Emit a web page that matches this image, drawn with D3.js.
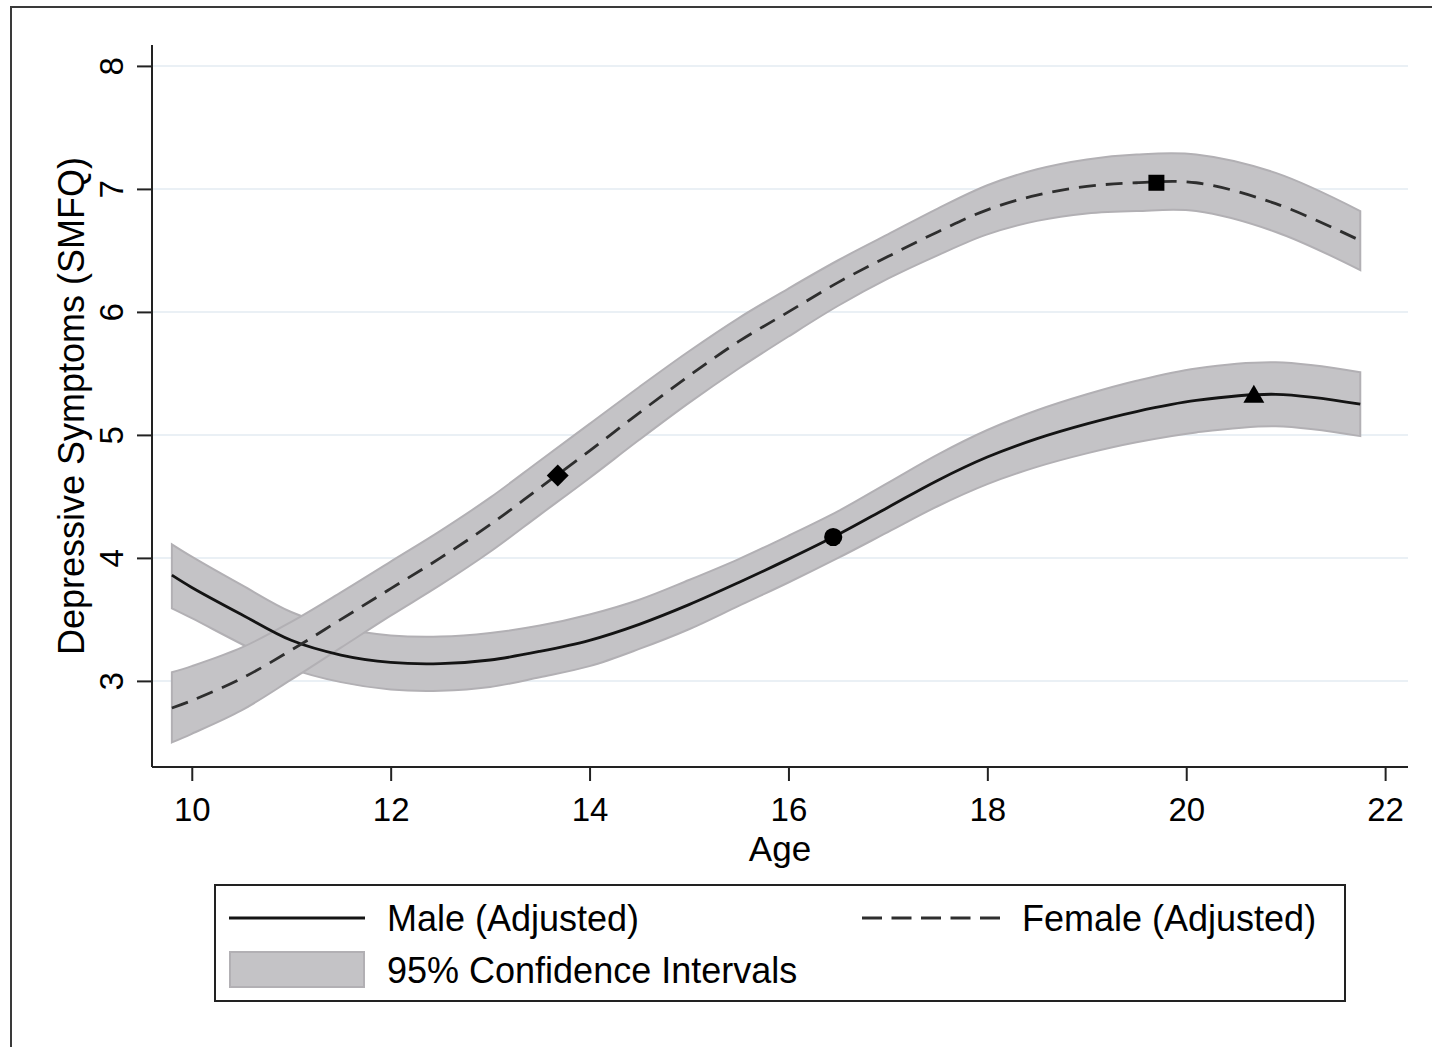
<!DOCTYPE html>
<html>
<head>
<meta charset="utf-8">
<script src="https://cdn.jsdelivr.net/npm/d3@7"></script>
<style>
  html, body { margin: 0; padding: 0; background: #fff; }
  svg { display: block; font-family: "Liberation Sans", Arial, sans-serif; }
</style>
</head>
<body>
<svg id="chart" width="1432" height="1047"></svg>
<script>
// Predicted depressive symptoms (SMFQ) by age, adjusted models
const ages = [9.8, 10.0, 10.5, 11.0, 11.5, 12.0, 12.5, 13.0, 13.5, 14.0, 14.5, 15.0,
              15.5, 16.0, 16.5, 17.0, 17.5, 18.0, 18.5, 19.0, 19.5, 20.1, 20.9, 21.75];

const maleFit   = [3.86, 3.76, 3.54, 3.33, 3.21, 3.15, 3.14, 3.17, 3.24, 3.33, 3.46, 3.62,
                   3.80, 3.99, 4.19, 4.41, 4.63, 4.82, 4.97, 5.09, 5.19, 5.28, 5.33, 5.25];
const maleUpper = [4.11, 4.01, 3.78, 3.56, 3.43, 3.37, 3.36, 3.39, 3.45, 3.54, 3.66, 3.82,
                   3.99, 4.18, 4.38, 4.61, 4.84, 5.04, 5.20, 5.33, 5.44, 5.54, 5.59, 5.51];
const maleLower = [3.59, 3.51, 3.30, 3.10, 2.99, 2.93, 2.92, 2.95, 3.03, 3.12, 3.26, 3.42,
                   3.61, 3.80, 4.00, 4.21, 4.42, 4.60, 4.74, 4.85, 4.94, 5.02, 5.07, 4.99];

const femaleFit   = [2.78, 2.84, 3.02, 3.25, 3.50, 3.75, 4.00, 4.27, 4.57, 4.87, 5.18, 5.48,
                     5.76, 6.00, 6.24, 6.45, 6.65, 6.83, 6.95, 7.02, 7.05, 7.05, 6.88, 6.58];
const femaleUpper = [3.07, 3.12, 3.27, 3.48, 3.72, 3.97, 4.22, 4.49, 4.79, 5.09, 5.39, 5.68,
                     5.95, 6.19, 6.42, 6.63, 6.84, 7.03, 7.16, 7.24, 7.28, 7.28, 7.13, 6.82];
const femaleLower = [2.50, 2.57, 2.76, 3.01, 3.27, 3.53, 3.78, 4.05, 4.35, 4.65, 4.96, 5.26,
                     5.54, 5.80, 6.05, 6.27, 6.46, 6.63, 6.74, 6.80, 6.82, 6.82, 6.65, 6.34];

// Highlighted points on the fitted curves
const markerNames  = ["femaleDiamond", "maleCircle", "femaleSquare", "maleTriangle"];
const markerAges   = [13.68, 16.45, 19.70, 20.68];
const markerValues = [4.67, 4.17, 7.05, 5.31];

const xTicks = [10, 12, 14, 16, 18, 20, 22];
const yTicks = [3, 4, 5, 6, 7, 8];

const legendLabels = ["Male (Adjusted)", "Female (Adjusted)", "95% Confidence Intervals"];

// ---------------------------------------------------------------
const svg = d3.select("#chart");
const plot = { left: 152, right: 1408, top: 45, bottom: 767 };

const x = d3.scaleLinear().domain([9.6, 22.23]).range([plot.left, plot.right]);
const y = d3.scaleLinear().domain([2.30, 8.17]).range([plot.bottom, plot.top]);

const bandColor = "#c4c3c6";
const bandEdge = "#b2b0b4";
const smooth = d3.curveCatmullRom.alpha(0.5);

// outer frame of the graph region
svg.append("rect")
  .attr("x", 11).attr("y", 7)
  .attr("width", 1450).attr("height", 1070)
  .attr("fill", "none").attr("stroke", "#3a3a3a").attr("stroke-width", 2);

// horizontal grid
svg.append("g").selectAll("line").data(yTicks).join("line")
  .attr("x1", plot.left + 1).attr("x2", plot.right)
  .attr("y1", d => y(d)).attr("y2", d => y(d))
  .attr("stroke", "#eaf0f5").attr("stroke-width", 2);

// confidence bands
const band = (lo, hi) => d3.area()
  .x((d, i) => x(ages[i]))
  .y0((d, i) => y(lo[i]))
  .y1((d, i) => y(hi[i]))
  .curve(smooth)(ages);

[[maleLower, maleUpper], [femaleLower, femaleUpper]].forEach(([lo, hi]) => {
  svg.append("path")
    .attr("d", band(lo, hi))
    .attr("fill", bandColor)
    .attr("stroke", bandEdge)
    .attr("stroke-width", 2);
});

// fitted lines
const fitLine = vals => d3.line()
  .x((d, i) => x(ages[i]))
  .y((d, i) => y(vals[i]))
  .curve(smooth)(ages);

svg.append("path")
  .attr("d", fitLine(maleFit))
  .attr("fill", "none").attr("stroke", "#141414").attr("stroke-width", 2.8);

svg.append("path")
  .attr("d", fitLine(femaleFit))
  .attr("fill", "none").attr("stroke", "#2e2e2e").attr("stroke-width", 2.8)
  .attr("stroke-dasharray", "17,10");

// markers
const markerSymbols = {
  femaleDiamond: { type: d3.symbolSquare, size: 240, rotate: 45 },
  maleCircle:    { type: d3.symbolCircle, size: 260, rotate: 0 },
  femaleSquare:  { type: d3.symbolSquare, size: 256, rotate: 0 },
  maleTriangle:  { type: d3.symbolTriangle, size: 190, rotate: 0 }
};
markerNames.forEach((name, i) => {
  const s = markerSymbols[name];
  svg.append("path")
    .attr("d", d3.symbol().type(s.type).size(s.size)())
    .attr("transform", `translate(${x(markerAges[i])},${y(markerValues[i])}) rotate(${s.rotate})`)
    .attr("fill", "#000");
});

// axes
const xAxis = svg.append("g")
  .attr("transform", `translate(0,${plot.bottom})`)
  .call(d3.axisBottom(x).tickValues(xTicks).tickSize(14).tickPadding(8).tickFormat(d3.format("d")));
xAxis.select(".domain").attr("d", `M${plot.left},0H${plot.right}`);

const yAxis = svg.append("g")
  .attr("transform", `translate(${plot.left},0)`)
  .call(d3.axisLeft(y).tickValues(yTicks).tickSize(15).tickPadding(0).tickFormat(d3.format("d")));
yAxis.select(".domain").attr("d", `M0,${plot.top}V${plot.bottom}`);

[xAxis, yAxis].forEach(g => {
  g.select(".domain").attr("stroke", "#222").attr("stroke-width", 2);
  g.selectAll(".tick line").attr("stroke", "#222").attr("stroke-width", 2);
  g.selectAll(".tick text").attr("fill", "#000").style("font-size", "33px");
});
xAxis.selectAll(".tick text").attr("dy", null).attr("y", 54);

// y tick labels rotated, reading upward
yAxis.selectAll(".tick text")
  .attr("x", null).attr("dy", null)
  .attr("text-anchor", "middle")
  .attr("transform", "translate(-29,0) rotate(-90)");

// axis titles
svg.append("text")
  .attr("x", (plot.left + plot.right) / 2).attr("y", 861)
  .attr("text-anchor", "middle")
  .style("font-size", "35px")
  .text("Age");
svg.append("text")
  .attr("transform", `translate(84,${(plot.top + plot.bottom) / 2}) rotate(-90)`)
  .attr("text-anchor", "middle")
  .style("font-size", "36px")
  .text("Depressive Symptoms (SMFQ)");

// legend
const lg = svg.append("g");
lg.append("rect")
  .attr("x", 215).attr("y", 885).attr("width", 1130).attr("height", 116)
  .attr("fill", "#fff").attr("stroke", "#222").attr("stroke-width", 2);
lg.append("line")
  .attr("x1", 229).attr("x2", 365).attr("y1", 918).attr("y2", 918)
  .attr("stroke", "#141414").attr("stroke-width", 2.8);
lg.append("line")
  .attr("x1", 862).attr("x2", 1000).attr("y1", 918).attr("y2", 918)
  .attr("stroke", "#2e2e2e").attr("stroke-width", 2.8)
  .attr("stroke-dasharray", "20,9.5");
lg.append("rect")
  .attr("x", 230).attr("y", 952).attr("width", 134).attr("height", 35)
  .attr("fill", bandColor).attr("stroke", bandEdge).attr("stroke-width", 2);
const legendPos = [[387, 931], [1022, 931], [387, 983]];
legendLabels.forEach((t, i) => {
  lg.append("text")
    .attr("x", legendPos[i][0]).attr("y", legendPos[i][1])
    .style("font-size", "36px")
    .text(t);
});
</script>
</body>
</html>
